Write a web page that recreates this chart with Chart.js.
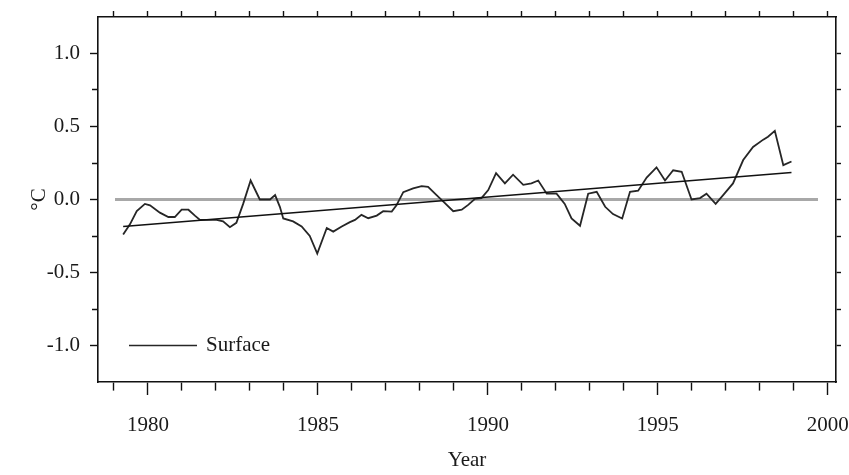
<!DOCTYPE html>
<html>
<head>
<meta charset="utf-8">
<script src="https://cdn.jsdelivr.net/npm/chart.js@4/dist/chart.umd.min.js"></script>
<style>
  html, body { margin: 0; padding: 0; background: #fff; }
  #wrap { width: 849px; height: 475px; }
</style>
</head>
<body>
<div id="wrap"><canvas id="chart" width="849" height="475"></canvas></div>
<script>
// surface temperature anomaly (°C), smoothed series
var years = [
  1979.27, 1979.47, 1979.67, 1979.91, 1980.06, 1980.35, 1980.60, 1980.79, 1980.99, 1981.19,
  1981.38, 1981.53, 1982.02, 1982.21, 1982.41, 1982.60, 1982.80, 1983.02, 1983.29, 1983.59,
  1983.74, 1983.88, 1983.98, 1984.27, 1984.52, 1984.76, 1984.98, 1985.26, 1985.45, 1985.70,
  1985.94, 1986.09, 1986.28, 1986.48, 1986.73, 1986.92, 1987.17, 1987.31, 1987.51, 1987.80,
  1988.05, 1988.24, 1988.49, 1988.69, 1988.98, 1989.23, 1989.42, 1989.62, 1989.81, 1990.01,
  1990.24, 1990.50, 1990.74, 1991.04, 1991.28, 1991.48, 1991.73, 1992.02, 1992.26, 1992.46,
  1992.71, 1992.95, 1993.20, 1993.45, 1993.68, 1993.95, 1994.18, 1994.42, 1994.67, 1994.96,
  1995.21, 1995.45, 1995.70, 1995.99, 1996.24, 1996.43, 1996.70, 1996.92, 1997.21, 1997.51,
  1997.80, 1998.10, 1998.24, 1998.44, 1998.69, 1998.93
];
var surface = [
  -0.24, -0.17, -0.08, -0.03, -0.04, -0.09, -0.12, -0.12, -0.07, -0.07,
  -0.11, -0.14, -0.14, -0.15, -0.19, -0.16, -0.03, 0.13, 0.00, 0.00,
  0.03, -0.05, -0.13, -0.15, -0.185, -0.25, -0.37, -0.195, -0.22, -0.185,
  -0.155, -0.14, -0.105, -0.128, -0.11, -0.08, -0.083, -0.04, 0.05, 0.076,
  0.092, 0.087, 0.03, -0.015, -0.08, -0.07, -0.037, 0.005, 0.01, 0.065,
  0.18, 0.11, 0.17, 0.10, 0.11, 0.13, 0.04, 0.04, -0.03, -0.13,
  -0.18, 0.04, 0.053, -0.05, -0.10, -0.13, 0.053, 0.06, 0.15, 0.22,
  0.13, 0.20, 0.19, 0.00, 0.01, 0.04, -0.03, 0.03, 0.11, 0.27,
  0.36, 0.41, 0.43, 0.47, 0.235, 0.26
];

// linear trend and zero reference
var trendYears = [1979.27, 1998.93];
var trendValues = [-0.185, 0.185];
var zeroYears = [1979.03, 1999.71];
var zeroValues = [0, 0];

var xTickYears = [];
for (var y = 1979; y <= 2000; y++) xTickYears.push(y);
var yTickValues = [-1.0, -0.75, -0.5, -0.25, 0, 0.25, 0.5, 0.75, 1.0];

function pts(xs, ys) {
  return xs.map(function (x, i) { return { x: x, y: ys[i] }; });
}

// fixed box sizes so the plot frame lands where it should
function fixBox(size) {
  return function (s) {
    if (s.isHorizontal()) s.height = size; else s.width = size;
    s.paddingLeft = s.paddingRight = s.paddingTop = s.paddingBottom = 0;
  };
}

Chart.defaults.font.family = '"Liberation Serif", "Times New Roman", serif';
Chart.defaults.font.size = 21;
Chart.defaults.color = '#1a1a1a';

var ink = '#111';

// legend drawn inside the plot, bottom-left
var insideLegend = {
  id: 'insideLegend',
  afterDatasetsDraw: function (chart) {
    var ctx = chart.ctx;
    var ds = chart.data.datasets[1];
    var yPx = chart.scales.y.getPixelForValue(-1.0);
    var x0 = chart.chartArea.left + 31;
    ctx.save();
    ctx.strokeStyle = ds.borderColor;
    ctx.lineWidth = 1.6;
    ctx.beginPath();
    ctx.moveTo(x0, yPx);
    ctx.lineTo(x0 + 68, yPx);
    ctx.stroke();
    ctx.fillStyle = '#1a1a1a';
    ctx.font = '21px "Liberation Serif", serif';
    ctx.textBaseline = 'middle';
    ctx.fillText(ds.label, x0 + 77, yPx);
    ctx.restore();
  }
};

new Chart(document.getElementById('chart'), {
  type: 'line',
  data: {
    datasets: [
      {
        label: 'Trend',
        data: pts(trendYears, trendValues),
        borderColor: ink,
        borderWidth: 1.7,
        pointRadius: 0,
        order: 0
      },
      {
        label: 'Surface',
        data: pts(years, surface),
        borderColor: '#262626',
        borderWidth: 1.8,
        pointRadius: 0,
        tension: 0,
        order: 1
      },
      {
        label: 'Zero',
        data: pts(zeroYears, zeroValues),
        borderColor: '#a8a8a8',
        borderWidth: 3,
        pointRadius: 0,
        order: 2
      }
    ]
  },
  options: {
    responsive: false,
    animation: false,
    layout: { padding: 0 },
    plugins: { legend: { display: false }, tooltip: { enabled: false } },
    scales: {
      x: {
        type: 'linear',
        position: 'bottom',
        min: 1978.53,
        max: 2000.24,
        afterBuildTicks: function (s) { s.ticks = xTickYears.map(function (v) { return { value: v }; }); },
        afterFit: fixBox(93),
        border: { color: ink, width: 1.6 },
        grid: {
          drawOnChartArea: false,
          tickLength: 13,
          tickColor: ink,
          tickWidth: 1.4,
          tickBorderDash: function (c) { return c.tick && c.tick.value % 5 !== 0 ? [8, 30] : []; }
        },
        ticks: {
          padding: 18,
          maxRotation: 0,
          autoSkip: false,
          callback: function (v) { return v % 5 === 0 ? String(v) : ''; }
        },
        title: { display: true, text: 'Year', padding: { top: 0, bottom: 2 } }
      },
      x2: {
        type: 'linear',
        position: 'top',
        min: 1978.53,
        max: 2000.24,
        afterBuildTicks: function (s) { s.ticks = xTickYears.map(function (v) { return { value: v }; }); },
        afterFit: fixBox(17),
        border: { color: ink, width: 1.6 },
        grid: { drawOnChartArea: false, tickLength: 6, tickColor: ink, tickWidth: 1.4 },
        ticks: { display: false }
      },
      y: {
        position: 'left',
        min: -1.25,
        max: 1.25,
        afterBuildTicks: function (s) { s.ticks = yTickValues.map(function (v) { return { value: v }; }); },
        afterFit: fixBox(98),
        border: { color: ink, width: 1.6 },
        grid: {
          drawOnChartArea: false,
          tickLength: 8,
          tickColor: ink,
          tickWidth: 1.4,
          tickBorderDash: function (c) {
            return c.tick && Math.abs(c.tick.value * 2 - Math.round(c.tick.value * 2)) > 1e-6 ? [0, 2, 6, 30] : [];
          }
        },
        ticks: {
          padding: 10,
          autoSkip: false,
          callback: function (v) {
            return Math.abs(v * 2 - Math.round(v * 2)) < 1e-6 ? v.toFixed(1) : '';
          }
        },
        title: { display: true, text: '°C', padding: { top: 27, bottom: 0 } }
      },
      y2: {
        position: 'right',
        min: -1.25,
        max: 1.25,
        afterBuildTicks: function (s) { s.ticks = yTickValues.map(function (v) { return { value: v }; }); },
        afterFit: fixBox(13),
        border: { color: ink, width: 1.6 },
        grid: { drawOnChartArea: false, tickLength: 5, tickColor: ink, tickWidth: 1.4 },
        ticks: { display: false }
      }
    }
  },
  plugins: [insideLegend]
});
</script>
</body>
</html>
